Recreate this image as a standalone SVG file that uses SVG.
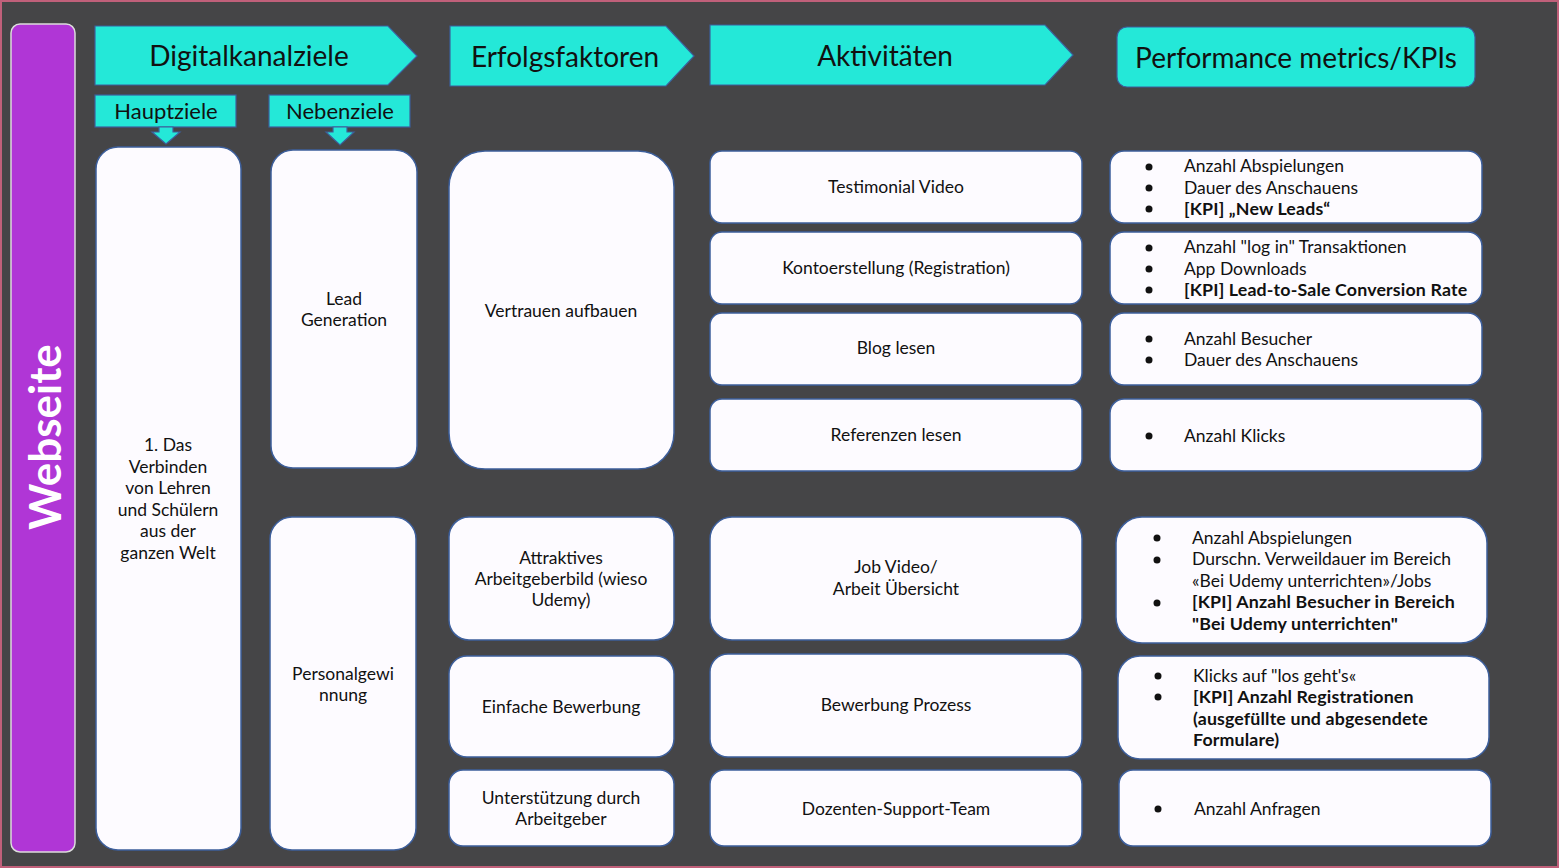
<svg xmlns="http://www.w3.org/2000/svg" width="1559" height="868" viewBox="0 0 1559 868">
<style>
.bg{fill:#454547;stroke:#c0607a;stroke-width:2}
.head{fill:#24e8d8;stroke:#3d5f9c;stroke-width:1.2}
.box{fill:#fdfbff;stroke:#3d5f9c;stroke-width:1.5}
.ht{font-family:Lato,"Liberation Sans",sans-serif;font-size:28px;fill:#111;text-anchor:middle}
.st{font-family:Lato,"Liberation Sans",sans-serif;font-size:22px;fill:#111;text-anchor:middle}
.t{font-family:Lato,"Liberation Sans",sans-serif;font-size:17.5px;fill:#111;text-anchor:middle}
.k{font-family:Lato,"Liberation Sans",sans-serif;font-size:17.5px;fill:#111}
.kb{font-family:Lato,"Liberation Sans",sans-serif;font-size:17.8px;fill:#111;font-weight:bold;letter-spacing:0.15px}
.dot{fill:#111}
</style>
<rect class="bg" x="1" y="1" width="1557" height="866"/>

<g id="webseite">
<rect x="11" y="24" width="64" height="828" rx="9" fill="#b036d6" stroke="#dcdcdc" stroke-width="1.5"/>
<text transform="translate(61,437) rotate(-90)" font-family="Lato,'Liberation Sans',sans-serif" font-size="44" font-weight="bold" fill="#fff" text-anchor="middle">Webseite</text>
</g>

<g id="h-digital">
<path class="head" d="M95,26 H388 L417,56 L388,85 H95 Z"/>
<text class="ht" x="249" y="66">Digitalkanalziele</text>
</g>
<g id="h-erfolg">
<path class="head" d="M450,26 H666 L694,56 L666,86 H450 Z"/>
<text class="ht" x="565" y="67">Erfolgsfaktoren</text>
</g>
<g id="h-aktiv">
<path class="head" d="M710,25 H1045 L1073,55 L1045,85 H710 Z"/>
<text class="ht" x="885" y="66">Aktivitäten</text>
</g>
<g id="h-kpi">
<rect class="head" x="1117" y="27" width="358" height="60" rx="10"/>
<text class="ht" x="1296" y="68">Performance metrics/KPIs</text>
</g>
<g id="h-haupt">
<rect class="head" x="95" y="95" width="141" height="32"/>
<text class="st" x="166" y="119">Hauptziele</text>
</g>
<g id="h-neben">
<rect class="head" x="269" y="95" width="141" height="32"/>
<text class="st" x="340" y="119">Nebenziele</text>
</g>

<g id="connectors">
<path class="head" d="M159,127 H173 V132 H180 L166,144 L152,132 H159 Z"/>
<path class="head" d="M333,127 H347 V132 H354 L340,145 L326,132 H333 Z"/>
</g>

<g id="n-hauptziel">
<rect class="box" x="96" y="147" width="145" height="703" rx="22"/>
<text class="t" x="168" y="451">1. Das</text>
<text class="t" x="168" y="473">Verbinden</text>
<text class="t" x="168" y="494">von Lehren</text>
<text class="t" x="168" y="516">und Schülern</text>
<text class="t" x="168" y="537">aus der</text>
<text class="t" x="168" y="559">ganzen Welt</text>
</g>
<g id="n-lead">
<rect class="box" x="271" y="150" width="146" height="318" rx="22"/>
<text class="t" x="344" y="305">Lead</text>
<text class="t" x="344" y="326">Generation</text>
</g>
<g id="n-personal">
<rect class="box" x="270" y="517" width="146" height="333" rx="22"/>
<text class="t" x="343" y="680">Personalgewi</text>
<text class="t" x="343" y="701">nnung</text>
</g>

<g id="n-vertrauen">
<rect class="box" x="449" y="151" width="225" height="318" rx="36"/>
<text class="t" x="561" y="317">Vertrauen aufbauen</text>
</g>
<g id="n-attraktiv">
<rect class="box" x="449" y="517" width="225" height="123" rx="20"/>
<text class="t" x="561" y="564">Attraktives</text>
<text class="t" x="561" y="585">Arbeitgeberbild (wieso</text>
<text class="t" x="561" y="606">Udemy)</text>
</g>
<g id="n-einfach">
<rect class="box" x="449" y="656" width="225" height="101" rx="18"/>
<text class="t" x="561" y="713" font-size="16.5">Einfache Bewerbung</text>
</g>
<g id="n-unterst">
<rect class="box" x="449" y="770" width="225" height="76" rx="14"/>
<text class="t" x="561" y="804">Unterstützung durch</text>
<text class="t" x="561" y="825">Arbeitgeber</text>
</g>

<g id="n-testimonial">
<rect class="box" x="710" y="151" width="372" height="72" rx="12"/>
<text class="t" x="896" y="193">Testimonial Video</text>
</g>
<g id="n-konto">
<rect class="box" x="710" y="232" width="372" height="72" rx="12"/>
<text class="t" x="896" y="274">Kontoerstellung (Registration)</text>
</g>
<g id="n-blog">
<rect class="box" x="710" y="313" width="372" height="72" rx="12"/>
<text class="t" x="896" y="354">Blog lesen</text>
</g>
<g id="n-referenzen">
<rect class="box" x="710" y="399" width="372" height="72" rx="12"/>
<text class="t" x="896" y="441">Referenzen lesen</text>
</g>
<g id="n-jobvideo">
<rect class="box" x="710" y="517" width="372" height="123" rx="22"/>
<text class="t" x="896" y="573">Job Video/</text>
<text class="t" x="896" y="595">Arbeit Übersicht</text>
</g>
<g id="n-bewerbung">
<rect class="box" x="710" y="654" width="372" height="103" rx="18"/>
<text class="t" x="896" y="711">Bewerbung Prozess</text>
</g>
<g id="n-dozenten">
<rect class="box" x="710" y="770" width="372" height="76" rx="14"/>
<text class="t" x="896" y="815">Dozenten-Support-Team</text>
</g>

<g id="k-1">
<rect class="box" x="1110" y="151" width="372" height="72" rx="14"/>
<circle class="dot" cx="1149" cy="167" r="3.5"/><circle class="dot" cx="1149" cy="188" r="3.5"/><circle class="dot" cx="1149" cy="209" r="3.5"/>
<text class="k" x="1184" y="172">Anzahl Abspielungen</text>
<text class="k" x="1184" y="194">Dauer des Anschauens</text>
<text class="kb" x="1184" y="215">[KPI] „New Leads“</text>
</g>
<g id="k-2">
<rect class="box" x="1110" y="232" width="372" height="72" rx="14"/>
<circle class="dot" cx="1149" cy="248" r="3.5"/><circle class="dot" cx="1149" cy="269" r="3.5"/><circle class="dot" cx="1149" cy="290" r="3.5"/>
<text class="k" x="1184" y="253">Anzahl "log in" Transaktionen</text>
<text class="k" x="1184" y="275">App Downloads</text>
<text class="kb" x="1184" y="296">[KPI] Lead-to-Sale Conversion Rate</text>
</g>
<g id="k-3">
<rect class="box" x="1110" y="313" width="372" height="72" rx="14"/>
<circle class="dot" cx="1149" cy="339" r="3.5"/><circle class="dot" cx="1149" cy="360" r="3.5"/>
<text class="k" x="1184" y="345">Anzahl Besucher</text>
<text class="k" x="1184" y="366">Dauer des Anschauens</text>
</g>
<g id="k-4">
<rect class="box" x="1110" y="399" width="372" height="72" rx="14"/>
<circle class="dot" cx="1149" cy="436" r="3.5"/>
<text class="k" x="1184" y="442">Anzahl Klicks</text>
</g>
<g id="k-5">
<rect class="box" x="1116" y="517" width="371" height="126" rx="26"/>
<circle class="dot" cx="1157" cy="538" r="3.5"/><circle class="dot" cx="1157" cy="560" r="3.5"/><circle class="dot" cx="1157" cy="603" r="3.5"/>
<text class="k" x="1192" y="544">Anzahl Abspielungen</text>
<text class="k" x="1192" y="565">Durschn. Verweildauer im Bereich</text>
<text class="k" x="1192" y="587">«Bei Udemy unterrichten»/Jobs</text>
<text class="kb" x="1192" y="608">[KPI] Anzahl Besucher in Bereich</text>
<text class="kb" x="1192" y="630">"Bei Udemy unterrichten"</text>
</g>
<g id="k-6">
<rect class="box" x="1118" y="656" width="371" height="103" rx="22"/>
<circle class="dot" cx="1158" cy="676" r="3.5"/><circle class="dot" cx="1158" cy="697" r="3.5"/>
<text class="k" x="1193" y="682">Klicks auf "los geht's«</text>
<text class="kb" x="1193" y="703">[KPI] Anzahl Registrationen</text>
<text class="kb" x="1193" y="725">(ausgefüllte und abgesendete</text>
<text class="kb" x="1193" y="746">Formulare)</text>
</g>
<g id="k-7">
<rect class="box" x="1119" y="770" width="372" height="76" rx="14"/>
<circle class="dot" cx="1158" cy="809" r="3.5"/>
<text class="k" x="1194" y="815">Anzahl Anfragen</text>
</g>
</svg>
